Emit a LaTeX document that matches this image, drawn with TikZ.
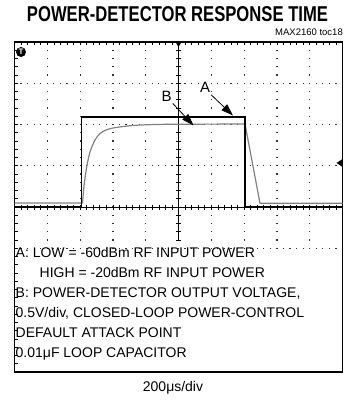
\documentclass[tikz,border=0pt]{standalone}
\usepackage{fontspec}
\setmainfont{Liberation Sans}
\usetikzlibrary{arrows.meta}
\tikzset{
  frameln/.style={line width=1.8pt, black},
  dotgrid/.style={fill=black!80},
  axisln/.style={line width=0.6pt, black},
  traceA/.style={line width=1.7pt, black, line join=miter},
  traceB/.style={line width=1.2pt, black!50},
  lbl/.style={font=\fontsize{15}{15}\selectfont, inner sep=0pt},
  legend/.style={font=\fontsize{14}{14}\selectfont, inner sep=0pt, anchor=base west},
  pointer/.style={line width=0.8pt, -{Triangle[length=12pt,width=8pt]}},
}
\begin{document}
\begin{tikzpicture}[x=1pt,y=-1pt]
\useasboundingbox (0,0) rectangle (344,406);
% title
\node[inner sep=0pt, anchor=base] (title) at (177.5,21.5) {\resizebox{301pt}{15pt}{\bfseries POWER-DETECTOR RESPONSE TIME}};
\node[inner sep=0pt, anchor=base east, font=\fontsize{9.5}{9.5}\selectfont] (code) at (343,36) {MAX2160 toc18};
% grid dots
\foreach \k in {1,2,3,5} {
  \foreach \i in {1,...,49} {
    \fill[dotgrid] ({14.5+\i*6.56-0.6},{42+\k*41.25-0.6}) rectangle ++(1.2,1.2);
  }
}
\foreach \j in {1,2,3,4,6,7,8,9} {
  \foreach \i in {1,...,24} {
    \fill[dotgrid] ({14.5+\j*32.8-0.6},{42+\i*8.25-0.6}) rectangle ++(1.2,1.2);
  }
}
% center axes with ticks
\draw[axisln] (178.5,42) -- (178.5,240);
\draw[axisln] (14.5,207) -- (342.5,207);
\foreach \i in {1,...,24} {
  \draw[axisln] (176,{42+\i*8.25}) -- (181,{42+\i*8.25});
}
\foreach \i in {1,...,39} {
  \draw[axisln] (14.5,{42+\i*8.25}) -- (17.5,{42+\i*8.25});
}
\foreach \i in {1,...,49} {
  \draw[axisln] ({14.5+\i*6.56},204.5) -- ({14.5+\i*6.56},209.5);
  \draw[axisln] ({14.5+\i*6.56},42) -- ({14.5+\i*6.56},45);
}
% frame
\draw[frameln] (14.5,42) rectangle (342.5,372);
\draw[line width=1pt] (14.2,42) -- (14.2,372);
% markers
\fill (175.5,42) -- (181.5,42) -- (178.5,47) -- cycle;
\fill (342.5,159) -- (342.5,167) -- (336.5,163) -- cycle;
\node[circle, fill=black, inner sep=0pt, minimum size=10pt, text=white, font=\fontsize{8}{8}\selectfont\bfseries] (trig) at (21,52) {T};
% traces
\draw[traceB] (14.5,203) -- (82.5,203)
  plot[smooth] coordinates {(82.5,203) (84,186) (86.7,167) (90,152) (95,140) (100,133.5) (106,130) (113,128) (125,126.3) (137,125.2) (160,124.4) (190,124.2)}
  -- (245,124) -- (260,203.3) -- (342.5,203.3);
\draw[traceA] (14.5,207) -- (81.5,207) -- (81.5,116.7) -- (245,116.7) -- (245,207) -- (342.5,207);
% labels and pointers
\node[lbl] (B) at (166.5,96) {B};
\node[lbl] (A) at (205,87.5) {A};
\coordinate (Btip) at (193.5,125.5);
\coordinate (Atip) at (233,115.5);
\draw[pointer] (B.south east) ++(1,2) -- (Btip);
\draw[pointer] (A.south east) ++(1,2) -- (Atip);
% legend
\node[legend] (l1) at (15.5,257) {A: LOW = -60dBm RF INPUT POWER};
\node[legend] (l2) at (39.5,277) {HIGH = -20dBm RF INPUT POWER};
\node[legend] (l3) at (15.5,297) {B: POWER-DETECTOR OUTPUT VOLTAGE,};
\node[legend] (l4) at (15.5,317) {0.5V/div, CLOSED-LOOP POWER-CONTROL};
\node[legend] (l5) at (15.5,337) {DEFAULT ATTACK POINT};
\node[legend] (l6) at (15.5,357) {0.01μF LOOP CAPACITOR};
\node[inner sep=0pt, anchor=base, font=\fontsize{14}{14}\selectfont] (xs) at (173,391) {200μs/div};
\end{tikzpicture}
\end{document}
